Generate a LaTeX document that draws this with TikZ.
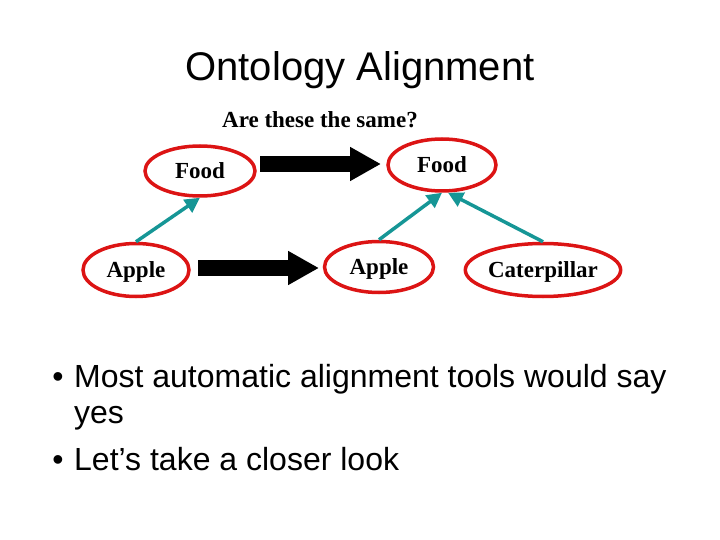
\documentclass[tikz,border=0pt]{standalone}
\usepackage{fontspec}
\setmainfont{Liberation Serif}
\newfontfamily\sansfont{Liberation Sans}
\usetikzlibrary{arrows.meta,shapes.geometric,calc}
\definecolor{ored}{RGB}{220,20,20}
\definecolor{oteal}{RGB}{22,150,150}
\tikzset{
  onto/.style={ellipse,draw=ored,line width=3.5bp,inner sep=0pt,
    font=\fontsize{23bp}{26bp}\selectfont\bfseries,text height=15bp,text depth=0bp},
  isa/.style={draw=oteal,line width=3.5bp,-{Triangle[length=15bp,width=15bp]}},
  maparrow/.style={draw=black,line width=16bp,-{Triangle[length=31bp,width=32bp]}},
  bul/.style={anchor=base west,inner sep=0pt,font=\sansfont\fontsize{32bp}{36bp}\selectfont},
}
\begin{document}
\begin{tikzpicture}[x=1bp,y=-1bp]
\useasboundingbox (0,0) rectangle (720,540);
\node[anchor=base,inner sep=0pt,font=\sansfont\fontsize{40bp}{48bp}\selectfont] (title) at (360,81) {Ontology Alignment};
\node[anchor=base,inner sep=0pt,font=\fontsize{23bp}{26bp}\selectfont\bfseries] (q) at (320,128) {Are these the same?};
\node[onto,minimum width=110bp,minimum height=50bp] (food1) at (200,171) {Food};
\node[onto,minimum width=108bp,minimum height=52bp] (food2) at (442,165) {Food};
\node[onto,minimum width=106bp,minimum height=53bp] (apple1) at (136,270) {Apple};
\node[onto,minimum width=109bp,minimum height=51bp] (apple2) at (379,267) {Apple};
\node[onto,minimum width=152bp,minimum height=53bp] (cat) at (543,270) {Caterpillar};
\coordinate (m1s) at (260,164);
\coordinate (m1e) at (381,164);
\coordinate (m2s) at (198,268);
\coordinate (m2e) at (319,268);
\draw[maparrow] (m1s) -- (m1e);
\draw[maparrow] (m2s) -- (m2e);
\draw[isa] (apple1.north) -- (food1.south);
\draw[isa] (apple2.north) -- (food2.south);
\draw[isa] (cat.north) -- ($(food2.south)+(6,0)$);
\node[anchor=base,inner sep=0pt,font=\sansfont\fontsize{32bp}{36bp}\selectfont] (b1) at (58,387) {•};
\node[bul] (t1) at (74,387) {Most automatic alignment tools would say};
\node[bul] (t1b) at (74,423) {yes};
\node[anchor=base,inner sep=0pt,font=\sansfont\fontsize{32bp}{36bp}\selectfont] (b2) at (58,470) {•};
\node[bul] (t2) at (74,470) {Let’s take a closer look};
\end{tikzpicture}
\end{document}
